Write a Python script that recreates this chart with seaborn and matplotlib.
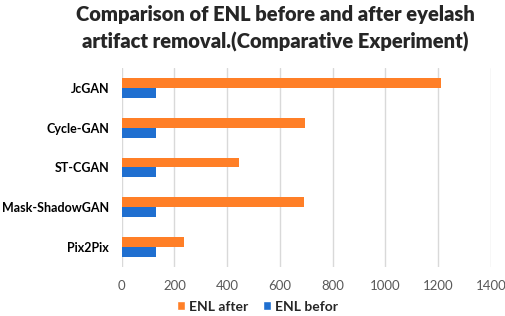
import matplotlib
matplotlib.use("Agg")
import matplotlib.pyplot as plt
import seaborn as sns
import pandas as pd
from matplotlib.patches import Patch

categories = ["JcGAN", "Cycle-GAN", "ST-CGAN", "Mask-ShadowGAN", "Pix2Pix"]
enl_after = [1210, 695, 446, 690, 235]
enl_before = [131, 131, 131, 131, 131]
series = ["ENL after", "ENL befor"]
colors = ["#FF7F27", "#1F6FD0"]
xticks = [0, 200, 400, 600, 800, 1000, 1200, 1400]

df = pd.DataFrame({
    "model": categories * 2,
    "value": enl_after + enl_before,
    "series": [series[0]] * len(categories) + [series[1]] * len(categories),
})

sns.set_theme(style="white")
plt.rcParams["font.family"] = ["Lato", "DejaVu Sans"]

fig = plt.figure(figsize=(5.05, 3.16), dpi=100)
ax = fig.add_axes([0.241, 0.155, 0.731, 0.63])

sns.barplot(data=df, y="model", x="value", hue="series", order=categories,
            hue_order=series, palette=colors, orient="h", width=0.5,
            saturation=1, linewidth=0, ax=ax, legend=False)

ax.set_xlim(0, 1400)
ax.set_xticks(xticks)
ax.set_xticklabels([str(t) for t in xticks], color="#595959", fontsize=9.5)
ax.set_xlabel("")
ax.set_ylabel("")
ax.tick_params(axis="x", length=0, pad=9)
ax.tick_params(axis="y", length=0, pad=9)
for lbl in ax.get_yticklabels():
    lbl.set_fontweight("bold")
    lbl.set_fontsize(9)
    lbl.set_color("black")
ax.grid(axis="x", color="#D9D9D9", linewidth=1)
ax.set_axisbelow(True)
for s in ax.spines.values():
    s.set_visible(False)

handles = [Patch(facecolor=c, label=s) for s, c in zip(series, colors)]
fig.legend(handles=handles, loc="center", bbox_to_anchor=(0.51, 0.03), ncol=2,
           frameon=False, handlelength=0.6, handleheight=0.6, handletextpad=0.3,
           columnspacing=1.0, prop={"weight": "bold", "size": 10})

fig.text(0.545, 0.985, "Comparison of ENL before and after eyelash\nartifact removal.(Comparative Experiment)",
         ha="center", va="top", fontsize=14.5, fontweight="heavy", linespacing=1.5)

fig.savefig("out.png", dpi=100)
